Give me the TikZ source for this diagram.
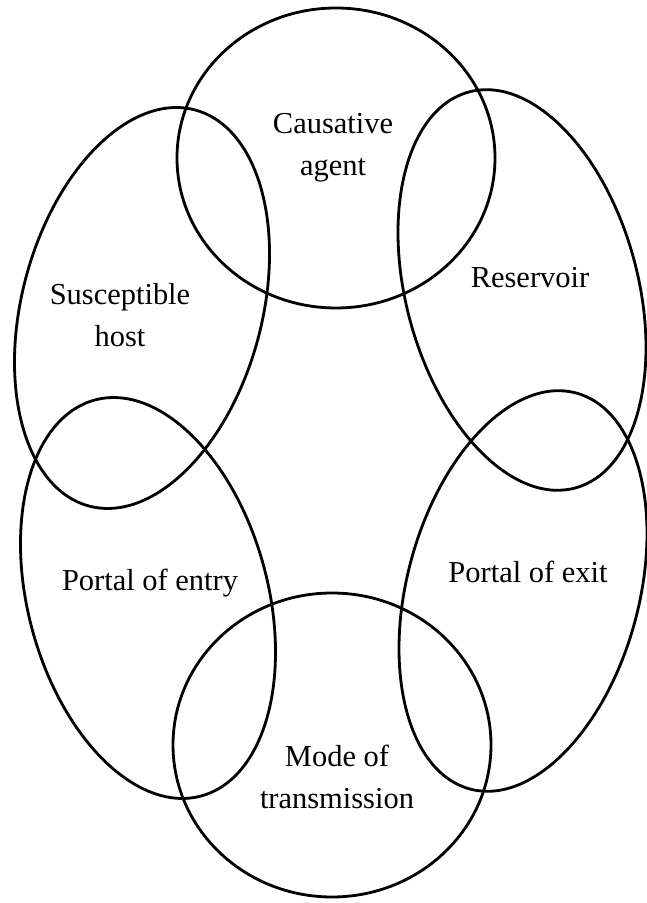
\documentclass[tikz,border=0pt]{standalone}
\usepackage{fontspec}
\setmainfont{Liberation Serif}
\usetikzlibrary{shapes.geometric}

\begin{document}
\begin{tikzpicture}[
  x=0.3mm,y=0.3mm,
  c/.style={draw,ellipse,line width=2.4pt,inner sep=0pt},
  t/.style={align=center,font=\fontsize{26}{36}\selectfont}
]
\useasboundingbox (0,0) rectangle (647,903);
\node[c,minimum width=95.4mm,minimum height=90mm] (agent) at (336,745) {};
\node[c,minimum width=69.6mm,minimum height=123mm,rotate=15] (res) at (522,613) {};
\node[c,minimum width=69.6mm,minimum height=123mm,rotate=-15] (exit) at (523,312) {};
\node[c,minimum width=95.4mm,minimum height=91.2mm] (mode) at (332,158) {};
\node[c,minimum width=72mm,minimum height=123mm,rotate=15] (entry) at (148,305) {};
\node[c,minimum width=72mm,minimum height=123mm,rotate=-15] (host) at (142,595) {};
\node[t] (agentl) at (333,755) {Causative\\agent};
\node[t] (resl) at (530,625) {Reservoir};
\node[t] (exitl) at (528,331) {Portal of exit};
\node[t] (model) at (337,126) {Mode of\\transmission};
\node[t] (entryl) at (150,320) {Portal of entry};
\node[t] (hostl) at (120,588) {Susceptible\\host};
\end{tikzpicture}
\end{document}
